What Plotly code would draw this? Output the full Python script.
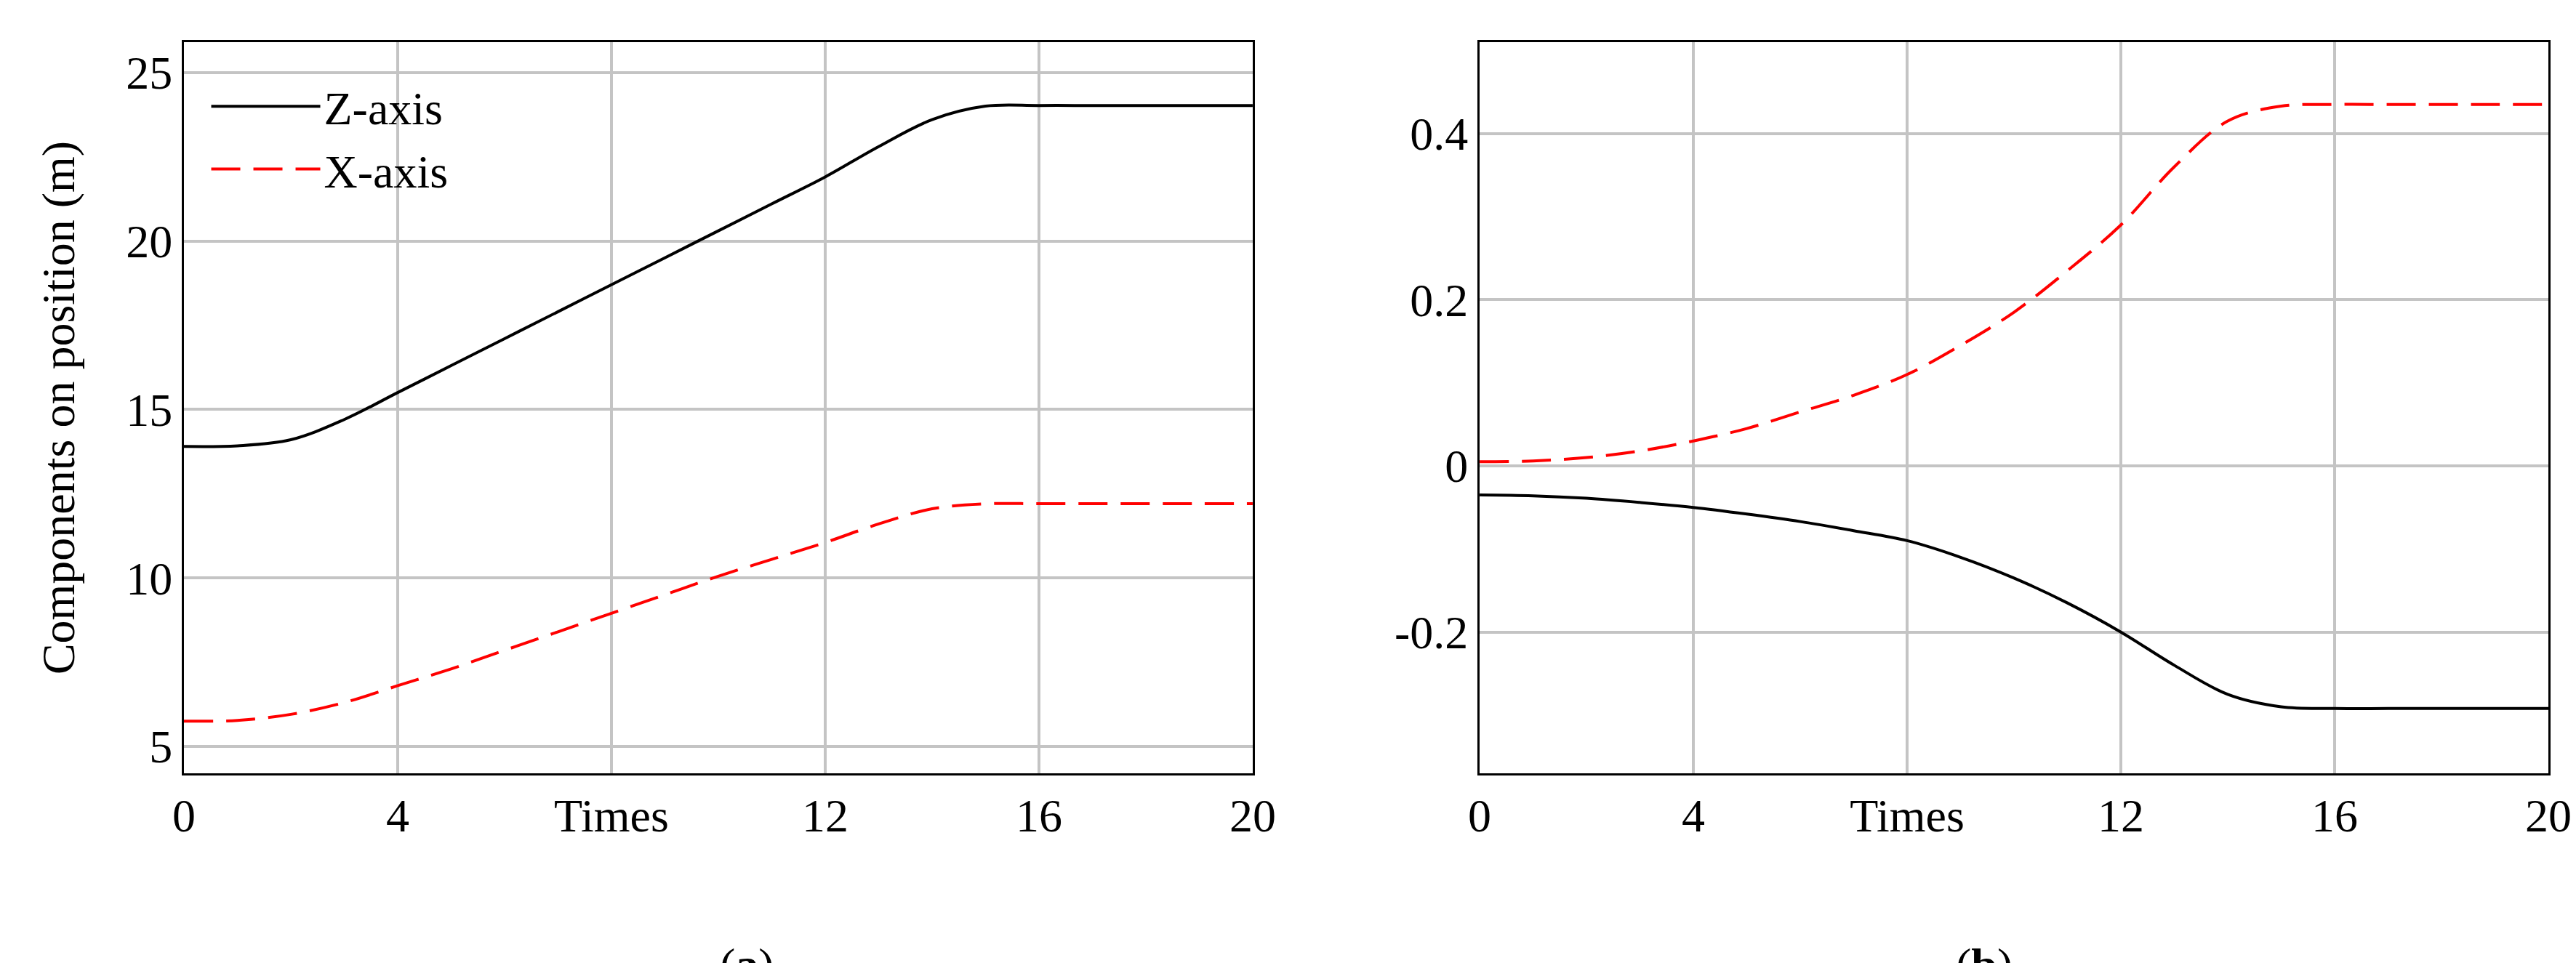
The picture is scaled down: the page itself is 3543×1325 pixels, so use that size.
import plotly.graph_objs as go

t = list(range(0, 21))
z_left = [13.9, 13.92, 14.1, 14.7, 15.5, 16.3, 17.1, 17.9, 18.7, 19.5, 20.3,
          21.1, 21.9, 22.8, 23.6, 24.0, 24.02, 24.02, 24.02, 24.02, 24.02]
x_left = [5.75, 5.77, 5.95, 6.3, 6.8, 7.3, 7.85, 8.4, 8.95, 9.5, 10.05,
          10.55, 11.05, 11.6, 12.05, 12.2, 12.2, 12.2, 12.2, 12.2, 12.2]
z_right = [-0.035, -0.036, -0.039, -0.044, -0.05, -0.058, -0.067, -0.078, -0.09, -0.11, -0.135,
           -0.165, -0.2, -0.24, -0.275, -0.29, -0.292, -0.292, -0.292, -0.292, -0.292]
x_right = [0.005, 0.006, 0.01, 0.018, 0.03, 0.045, 0.065, 0.085, 0.11, 0.145, 0.185,
           0.235, 0.29, 0.36, 0.415, 0.433, 0.435, 0.435, 0.435, 0.435, 0.435]
xtick_vals = [0, 4, 8, 12, 16, 20]
xtick_text = ['0', '4', 'Times', '12', '16', '20']

FONT = 'Liberation Serif'
FS = 64
blk = dict(color='black', width=4)
red = dict(color='red', width=4, dash='40px,18px')

fig = go.Figure()
fig.add_trace(go.Scatter(x=t, y=z_left, mode='lines', line=dict(blk, shape='spline'),
                         name='Z-axis', xaxis='x', yaxis='y'))
fig.add_trace(go.Scatter(x=t, y=x_left, mode='lines', line=dict(red, shape='spline'),
                         name='X-axis', xaxis='x', yaxis='y'))
fig.add_trace(go.Scatter(x=t, y=z_right, mode='lines', line=dict(blk, shape='spline'),
                         showlegend=False, xaxis='x2', yaxis='y2'))
fig.add_trace(go.Scatter(x=t, y=x_right, mode='lines', line=dict(red, shape='spline'),
                         showlegend=False, xaxis='x2', yaxis='y2'))

ax = dict(showline=True, mirror=True, linecolor='black', linewidth=3,
          showgrid=True, gridcolor='#c4c4c4', gridwidth=4, zeroline=False,
          ticks='', tickfont=dict(family=FONT, size=FS, color='black'))

fig.update_layout(
    width=3543, height=1325,
    paper_bgcolor='white', plot_bgcolor='white',
    margin=dict(l=245, r=46, t=50, b=269),
    font=dict(family=FONT, color='black'),
    xaxis=dict(ax, domain=[0, 0.452], range=[0, 20], tickvals=xtick_vals, ticktext=xtick_text),
    yaxis=dict(ax, range=[4.2, 25.9], tickvals=[5, 10, 15, 20, 25],
               title=dict(text='Components on position (m)', font=dict(family=FONT, size=FS), standoff=50)),
    xaxis2=dict(ax, domain=[0.548, 1], range=[0, 20], tickvals=xtick_vals, ticktext=xtick_text, anchor='y2'),
    yaxis2=dict(ax, anchor='x2', range=[-0.37, 0.51], tickvals=[-0.2, 0, 0.2, 0.4],
                ticktext=['-0.2', '0', '0.2', '0.4']),
    legend=dict(x=0.01, y=0.96, xanchor='left', yanchor='top', bgcolor='rgba(0,0,0,0)',
                font=dict(family=FONT, size=FS), tracegroupgap=90, itemwidth=150),
    annotations=[
        dict(text='(<b>a</b>)', x=0.226, y=-0.225, xref='paper', yref='paper', showarrow=False,
             yanchor='top', font=dict(family=FONT, size=FS)),
        dict(text='(<b>b</b>)', x=0.774, y=-0.225, xref='paper', yref='paper', showarrow=False,
             yanchor='top', font=dict(family=FONT, size=FS)),
    ],
)

fig.write_html("out.html")
